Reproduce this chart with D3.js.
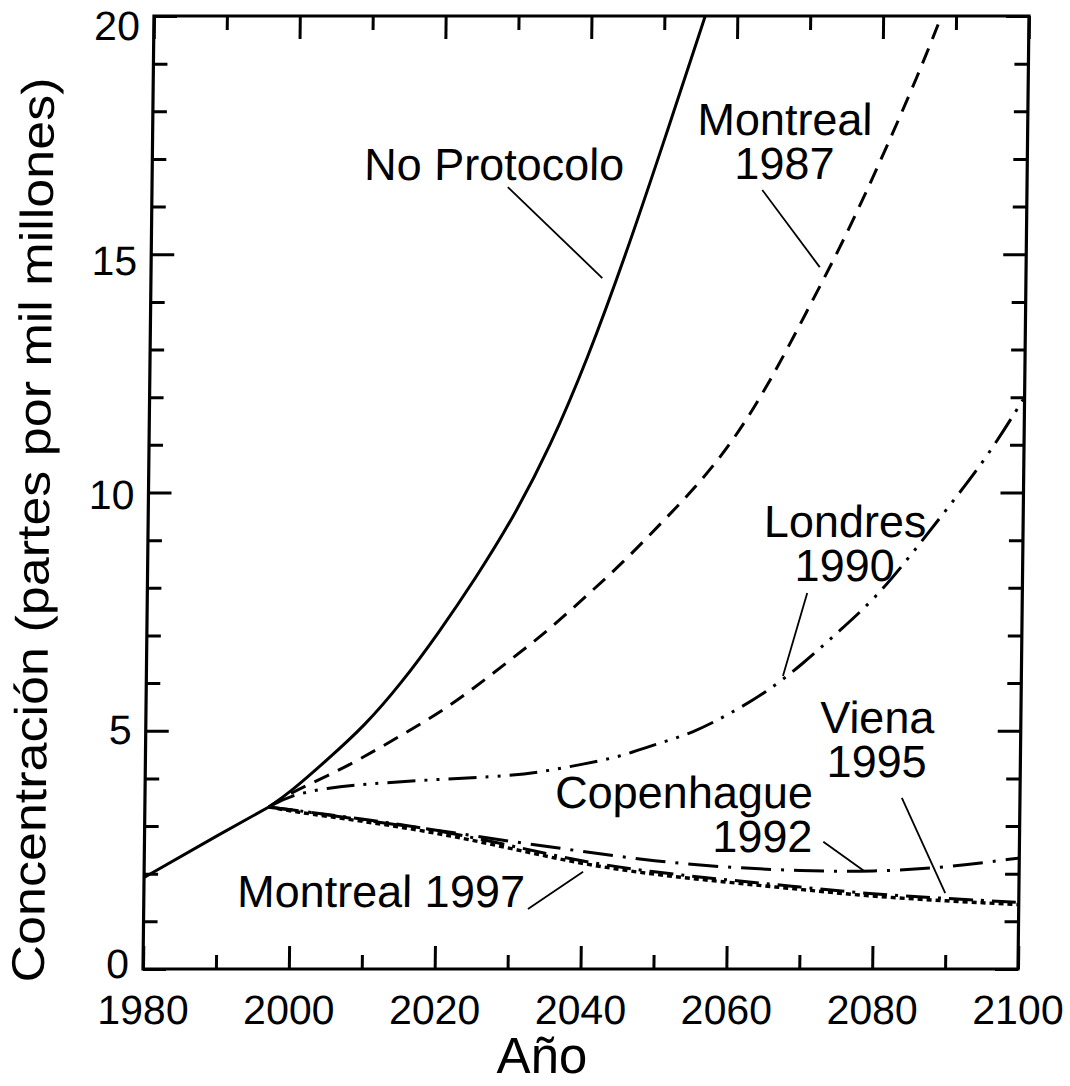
<!DOCTYPE html>
<html><head><meta charset="utf-8">
<script src="https://cdn.jsdelivr.net/npm/d3@7"></script>
<style>
html,body{margin:0;padding:0;background:#fff;}
svg{display:block;}
text{font-family:"Liberation Sans", Arial, Helvetica, sans-serif; fill:#000;}
</style></head><body>
<svg id="chart" width="1070" height="1086"></svg>
<script>
// ---------- data ----------
const historyYears  = [1980, 1990, 1997];
const historyValues = [1.92, 2.8, 3.4];

const noProtocoloYears  = [1997, 2000, 2005, 2010, 2015, 2020, 2025, 2030, 2035, 2040, 2045, 2050, 2055.6];
const noProtocoloValues = [3.4, 3.72, 4.4, 5.1, 6.0, 7.05, 8.2, 9.45, 10.95, 12.8, 14.95, 17.3, 20];

const montreal1987Years  = [1997, 2000, 2005, 2010, 2015, 2020, 2025, 2030, 2035, 2040, 2045, 2050, 2055, 2060, 2065, 2070, 2075, 2080, 2085, 2088];
const montreal1987Values = [3.4, 3.7, 4.05, 4.45, 4.9, 5.35, 5.9, 6.5, 7.1, 7.8, 8.5, 9.3, 10.1, 11.05, 12.3, 13.8, 15.3, 17.0, 18.8, 20];

const londres1990Years  = [1997, 2000, 2005, 2010, 2020, 2030, 2035, 2040, 2045, 2050, 2055, 2060, 2065, 2070, 2075, 2080, 2085, 2090, 2095, 2100];
const londres1990Values = [3.4, 3.65, 3.8, 3.88, 3.98, 4.05, 4.15, 4.3, 4.45, 4.72, 4.95, 5.35, 5.8, 6.4, 7.1, 7.8, 8.75, 9.75, 10.75, 12.0];

const copenhague1992Years  = [1997, 2000, 2010, 2020, 2030, 2040, 2050, 2060, 2070, 2080, 2090, 2100];
const copenhague1992Values = [3.4, 3.35, 3.12, 2.92, 2.68, 2.47, 2.26, 2.13, 2.06, 2.04, 2.13, 2.33];

const viena1995Years  = [1997, 2000, 2010, 2020, 2030, 2040, 2050, 2060, 2070, 2080, 2090, 2100];
const viena1995Values = [3.4, 3.34, 3.15, 2.92, 2.6, 2.25, 2.03, 1.87, 1.72, 1.57, 1.48, 1.4];

const montreal1997Years  = [1997, 2000, 2010, 2020, 2030, 2040, 2050, 2060, 2070, 2080, 2090, 2100];
const montreal1997Values = [3.4, 3.31, 3.1, 2.86, 2.54, 2.2, 1.98, 1.82, 1.67, 1.52, 1.43, 1.35];

const xMajorTicks = [1980, 2000, 2020, 2040, 2060, 2080, 2100];
const xMinorTicks = [1990, 2010, 2030, 2050, 2070, 2090];
const yMajorTicks = [0, 5, 10, 15, 20];
const yMinorTicks = [1, 2, 3, 4, 6, 7, 8, 9, 11, 12, 13, 14, 16, 17, 18, 19];

const xTitle = "Año";
const yTitle = "Concentración (partes por mil millones)";

// ---------- layout ----------
const L = 143, R = 1018, T = 16, B = 969;

const x = d3.scaleLinear().domain([1980, 2100]).range([L, R]);
const y = d3.scaleLinear().domain([0, 20]).range([B, T]);
// tick-label centres in the scanned original sit on a slightly compressed scale
const yLab = d3.scaleLinear().domain([0, 20]).range([963, 25]);

const svg = d3.select("#chart");
// slight shear of the scanned original
const g = svg.append("g")
  .attr("transform", `translate(0,${B}) skewX(-0.66) translate(0,${-B})`);

const zip = (a, b) => a.map((v, i) => [v, b[i]]);

// ---------- axes ----------
const MAJ = 23, MIN = 14;
function styleAxis(sel) {
  sel.select(".domain").remove();
  sel.selectAll(".tick line").attr("stroke", "#000").attr("stroke-width", 3);
}
g.append("g").attr("transform", `translate(0,${B})`)
  .call(d3.axisBottom(x).tickValues(xMajorTicks).tickSize(-MAJ).tickFormat(d3.format("d")))
  .call(styleAxis)
  .call(s => s.selectAll(".tick text").attr("y", 55).attr("dy", null)
      .attr("font-size", 41).attr("font-family", '"Liberation Sans", Arial, sans-serif'));
g.append("g").attr("transform", `translate(0,${B})`)
  .call(d3.axisBottom(x).tickValues(xMinorTicks).tickSize(-MIN).tickFormat(""))
  .call(styleAxis);
g.append("g").attr("transform", `translate(0,${T})`)
  .call(d3.axisTop(x).tickValues(xMajorTicks).tickSize(-MAJ).tickFormat(""))
  .call(styleAxis);
g.append("g").attr("transform", `translate(0,${T})`)
  .call(d3.axisTop(x).tickValues(xMinorTicks).tickSize(-MIN).tickFormat(""))
  .call(styleAxis);
g.append("g").attr("transform", `translate(${L},0)`)
  .call(d3.axisLeft(y).tickValues(yMajorTicks).tickSize(-MAJ).tickFormat(d3.format("d")))
  .call(styleAxis)
  .call(s => s.selectAll(".tick text")
      .attr("x", -14)
      .attr("y", d => yLab(d) - y(d))
      .attr("dy", "0.36em")
      .attr("font-size", 41).attr("font-family", '"Liberation Sans", Arial, sans-serif'));
g.append("g").attr("transform", `translate(${L},0)`)
  .call(d3.axisLeft(y).tickValues(yMinorTicks).tickSize(-MIN).tickFormat(""))
  .call(styleAxis);
g.append("g").attr("transform", `translate(${R},0)`)
  .call(d3.axisRight(y).tickValues(yMajorTicks).tickSize(-MAJ).tickFormat(""))
  .call(styleAxis);
g.append("g").attr("transform", `translate(${R},0)`)
  .call(d3.axisRight(y).tickValues(yMinorTicks).tickSize(-MIN).tickFormat(""))
  .call(styleAxis);

g.append("rect").attr("x", L).attr("y", T).attr("width", R - L).attr("height", B - T)
  .attr("fill", "none").attr("stroke", "#000").attr("stroke-width", 3.2);

// ---------- curves ----------
g.append("clipPath").attr("id", "clip").append("rect")
  .attr("x", L).attr("y", T).attr("width", R - L).attr("height", B - T);

const smooth = d3.line().x(d => x(d[0])).y(d => y(d[1])).curve(d3.curveBasis);
const straight = d3.line().x(d => x(d[0])).y(d => y(d[1]));
const series = [
  { pts: zip(historyYears, historyValues), gen: straight, dash: null, w: 3 },
  { pts: zip(noProtocoloYears, noProtocoloValues), gen: smooth, dash: null, w: 3 },
  { pts: zip(montreal1987Years, montreal1987Values), gen: smooth, dash: "16,10", w: 3 },
  { pts: zip(londres1990Years, londres1990Values), gen: smooth, dash: "28,9,3,9,3,9", w: 3 },
  { pts: zip(copenhague1992Years, copenhague1992Values), gen: smooth, dash: "30,10,3,10", w: 3 },
  { pts: zip(viena1995Years, viena1995Values), gen: smooth, dash: "24,8,3,8", w: 3 },
  { pts: zip(montreal1997Years, montreal1997Values), gen: smooth, dash: "5,4", w: 3.4 }
];
const curves = g.append("g").attr("clip-path", "url(#clip)");
series.forEach(s => {
  curves.append("path").attr("d", s.gen(s.pts)).attr("fill", "none")
    .attr("stroke", "#000").attr("stroke-width", s.w)
    .attr("stroke-dasharray", s.dash);
});

// ---------- annotations (anchor positions in data units) ----------
const labelLines = [["No Protocolo"], ["Montreal", "1987"], ["Londres", "1990"], ["Viena", "1995"], ["Copenhague", "1992"], ["Montreal 1997"]];
const labelAnchors = [
  [2026.9, 16.56, "middle"], [2066.7, 17.5, "middle"], [2075.6, 9.07, "middle"],
  [2080.3, 4.95, "middle"], [2071.6, 3.38, "end"], [1992.8, 1.30, "start"]
];
const LINE_GAP = 44;
const leaders = [
  [[2028.8, 16.41], [2041.9, 14.50]],
  [[2063.7, 16.35], [2071.7, 14.73]],
  [[2070.5, 7.89], [2067.3, 6.15]],
  [[2083.8, 3.59], [2089.9, 1.59]],
  [[2073.1, 2.67], [2078.7, 2.06]],
  [[2032.7, 1.26], [2040.2, 2.04]]
];
labelLines.forEach((lines, i) => {
  const a = labelAnchors[i];
  const t = g.append("text").attr("x", x(a[0])).attr("y", y(a[1]))
    .attr("text-anchor", a[2]).attr("font-size", 45);
  lines.forEach((ln, j) => {
    t.append("tspan").attr("x", x(a[0])).attr("dy", j === 0 ? 0 : LINE_GAP).text(ln);
  });
});
leaders.forEach(l => {
  g.append("line").attr("x1", x(l[0][0])).attr("y1", y(l[0][1]))
    .attr("x2", x(l[1][0])).attr("y2", y(l[1][1]))
    .attr("stroke", "#000").attr("stroke-width", 1.8);
});

// ---------- axis titles ----------
g.append("text").attr("x", 543).attr("y", 1073).attr("text-anchor", "middle")
  .attr("font-size", 51).text(xTitle);
g.append("text").attr("transform", `translate(44,530) rotate(-90)`)
  .attr("text-anchor", "middle").attr("font-size", 46)
  .attr("textLength", 905).attr("lengthAdjust", "spacingAndGlyphs").text(yTitle);
</script>
</body></html>
